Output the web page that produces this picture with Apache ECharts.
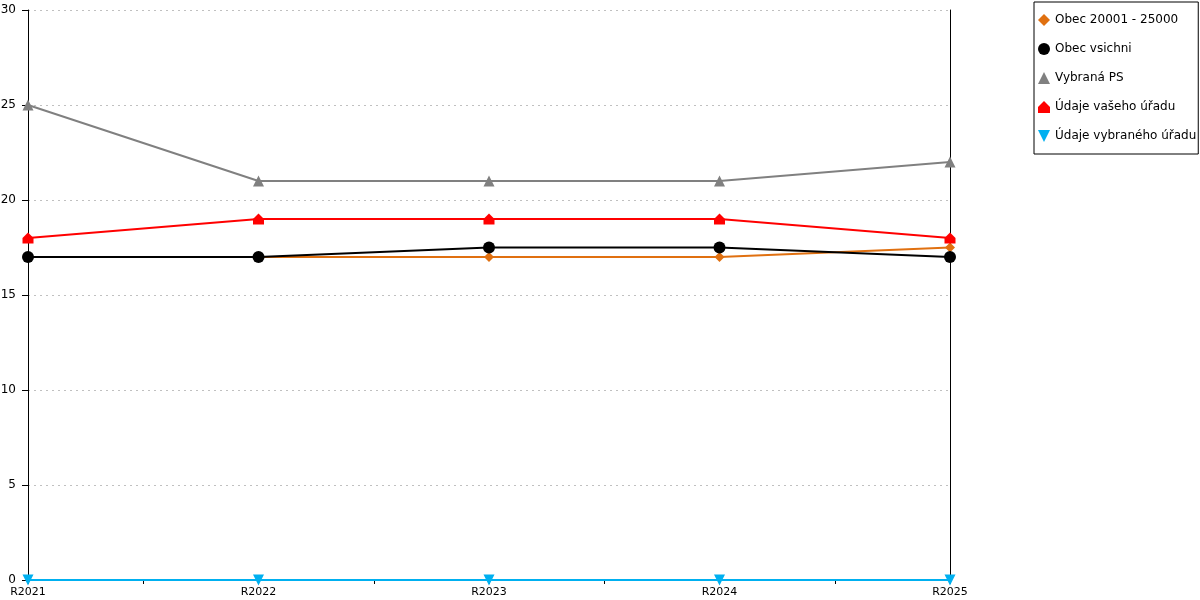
<!DOCTYPE html>
<html><head><meta charset="utf-8">
<script src="https://cdn.jsdelivr.net/npm/echarts@6/dist/echarts.min.js"></script>
<style>html,body{margin:0;padding:0;background:#fff}#c{width:1200px;height:600px}</style>
</head><body><div id="c"></div>
<script>
const categories = ['R2021','R2022','R2023','R2024','R2025'];
const seriesNames = ['Obec 20001 - 25000','Obec vsichni','Vybraná PS','Údaje vašeho úřadu','Údaje vybraného úřadu'];
const obec20001 = [17, 17, 17, 17, 17.5];
const obecVsichni = [17, 17, 17.5, 17.5, 17];
const vybranaPS = [25, 21, 21, 21, 22];
const udajeVaseho = [18, 19, 19, 19, 18];
const udajeVybraneho = [0, 0, 0, 0, 0];
const yTicks = [0, 5, 10, 15, 20, 25, 30];

const colors = ['#e07010', '#000000', '#808080', '#ff0000', '#00b0f0'];
const house = 'path://M5,0 L10,5 L10,10 L0,10 L0,5 Z';
const symbols = ['diamond', 'circle', 'triangle', house, 'path://M0,0 L10,0 L5,10 Z'];
const sizes = [10, 12, 11, 11, 11];
const allValues = [obec20001, obecVsichni, vybranaPS, udajeVaseho, udajeVybraneho];

const font = 'DejaVu Sans';
const chart = echarts.init(document.getElementById('c'), null, {renderer: 'canvas'});
chart.setOption({
  animation: false,
  backgroundColor: '#fff',
  grid: {left: 28, right: 250, top: 10, bottom: 20, containLabel: false, outerBoundsMode: 'none'},
  legend: {
    orient: 'vertical', left: 1034, top: 2,
    borderColor: '#000', borderWidth: 1,
    padding: [12, 2, 12, 4],
    itemWidth: 12, itemHeight: 12, itemGap: 17,
    textStyle: {fontFamily: font, fontSize: 12, color: '#000'},
    data: seriesNames.map((n, i) => ({name: n, icon: symbols[i]}))
  },
  xAxis: {
    type: 'value', min: 0, max: categories.length - 1, interval: 0.5,
    axisLine: {show: true, lineStyle: {color: '#000', width: 1}},
    axisTick: {show: true, length: 4, lineStyle: {color: '#000'}},
    splitLine: {show: false},
    axisLabel: {
      fontFamily: font, fontSize: 11, color: '#000', margin: 7,
      showMinLabel: true, showMaxLabel: true,
      formatter: v => Number.isInteger(v) ? categories[v] : ''
    }
  },
  yAxis: [{
    type: 'value', min: yTicks[0], max: yTicks[yTicks.length - 1], interval: 5,
    axisLine: {show: true, lineStyle: {color: '#000', width: 1}},
    axisTick: {show: true, length: 6, lineStyle: {color: '#000'}},
    splitLine: {show: true, lineStyle: {color: '#c0c0c0', type: [2, 4], width: 1}},
    axisLabel: {fontFamily: font, fontSize: 12, color: '#000', margin: 12}
  }, {
    type: 'value', min: yTicks[0], max: yTicks[yTicks.length - 1], interval: 5, position: 'right',
    axisLine: {show: true, lineStyle: {color: '#000', width: 1}},
    axisTick: {show: false}, axisLabel: {show: false}, splitLine: {show: false}
  }],
  series: seriesNames.map((n, i) => ({
    name: n, type: 'line',
    data: allValues[i].map((v, j) => [j, v]),
    symbol: symbols[i], symbolSize: sizes[i], showAllSymbol: true,
    lineStyle: {color: colors[i], width: 2},
    itemStyle: {color: colors[i]},
    z: 2 + (i === 4 ? 0 : i),
    clip: false
  }))
});
</script></body></html>
